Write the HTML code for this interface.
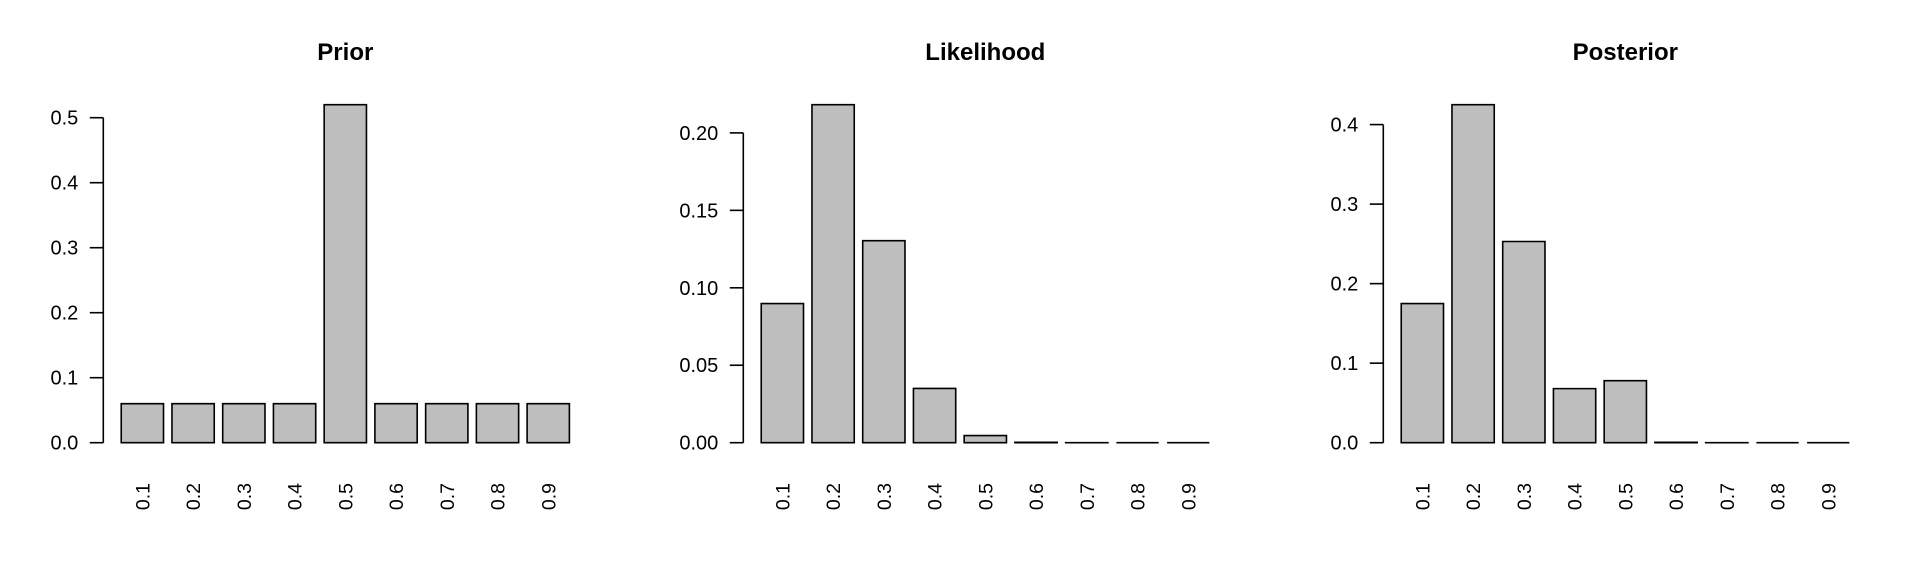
<!DOCTYPE html>
<html><head><meta charset="utf-8"><style>
html,body{margin:0;padding:0;background:#fff;}
svg{display:block;font-family:"Liberation Sans",Arial,sans-serif;}
</style></head><body>
<svg id="chart" width="1920" height="576" viewBox="0 0 1920 576" xmlns="http://www.w3.org/2000/svg"></svg>
<script>
const categories = ["0.1","0.2","0.3","0.4","0.5","0.6","0.7","0.8","0.9"];
const priorValues = [0.06,0.06,0.06,0.06,0.52,0.06,0.06,0.06,0.06];
const likelihoodValues = [0.0898,0.2182,0.1304,0.0350,0.0046,0.00027,0.000005,0.0000000,0.0000000];
const posteriorValues = [0.175,0.425,0.253,0.068,0.078,0.0005,0.00001,0.0000000,0.0000000];
const priorTicks = [0,0.1,0.2,0.3,0.4,0.5];
const priorTickLabels = ["0.0","0.1","0.2","0.3","0.4","0.5"];
const likTicks = [0,0.05,0.1,0.15,0.2];
const likTickLabels = ["0.00","0.05","0.10","0.15","0.20"];
const postTicks = [0,0.1,0.2,0.3,0.4];
const postTickLabels = ["0.0","0.1","0.2","0.3","0.4"];
const titles = ["Prior","Likelihood","Posterior"];

const NS = "http://www.w3.org/2000/svg";
const svg = document.getElementById('chart');
function mk(tag, attrs, parent){
  const e = document.createElementNS(NS, tag);
  for (const k in attrs) e.setAttribute(k, attrs[k]);
  parent.appendChild(e);
  return e;
}
const panels = [
  {vals: priorValues, ticks: priorTicks, labels: priorTickLabels, key:'prior'},
  {vals: likelihoodValues, ticks: likTicks, labels: likTickLabels, key:'likelihood'},
  {vals: posteriorValues, ticks: postTicks, labels: postTickLabels, key:'posterior'}
];
const unit = 42.28;
panels.forEach((p, i) => {
  const ox = i * 640;
  const g = mk('g', {}, svg);
  
  
  const axisX = ox + 103.3;
  const max = Math.max(...p.vals);
  const y0 = 442.7, yTopH = 338;
  const yScale = v => y0 - v / max * yTopH;
  const xScale = u => axisX + (u + 0.224) * unit;
  const t = mk('text', {x: (xScale(-0.224) + xScale(11.224)) / 2, y: 60, 'text-anchor': 'middle', 'font-size': 24, 'font-weight': 'bold'}, g);
  
  
  t.textContent = titles[i];
  p.vals.forEach((v, j) => {
    const l = xScale(0.2 + 1.2 * j), r = xScale(1.2 + 1.2 * j);
    const yt = yScale(v);
    const d = 'M' + l + ',' + y0 + 'L' + l + ',' + yt + 'L' + r + ',' + yt + 'L' + r + ',' + y0 + 'Z';
    const bar = mk('path', {d: d, fill: '#bebebe', stroke: '#000', 'stroke-width': 1.6}, g);
    
    
    const cx = (l + r) / 2;
    const lab = mk('text', {x: 0, y: 0, 'text-anchor': 'end', 'font-size': 19.5, transform: 'translate(' + (cx + 7) + ',483) rotate(-90)'}, g);
    
    
    lab.textContent = categories[j];
  });
  const ya = mk('line', {x1: axisX, x2: axisX, y1: yScale(p.ticks[0]), y2: yScale(p.ticks[p.ticks.length - 1]), stroke: '#000', 'stroke-width': 1.6}, g);
  
  
  p.ticks.forEach((tv, k) => {
    const y = yScale(tv);
    const tk = mk('line', {x1: axisX - 13.5, x2: axisX, y1: y, y2: y, stroke: '#000', 'stroke-width': 1.6}, g);
    
    
    const tl = mk('text', {x: axisX - 25, y: y + 7, 'text-anchor': 'end', 'font-size': 20}, g);
    
    
    tl.textContent = p.labels[k];
  });
});
</script>
</body></html>
